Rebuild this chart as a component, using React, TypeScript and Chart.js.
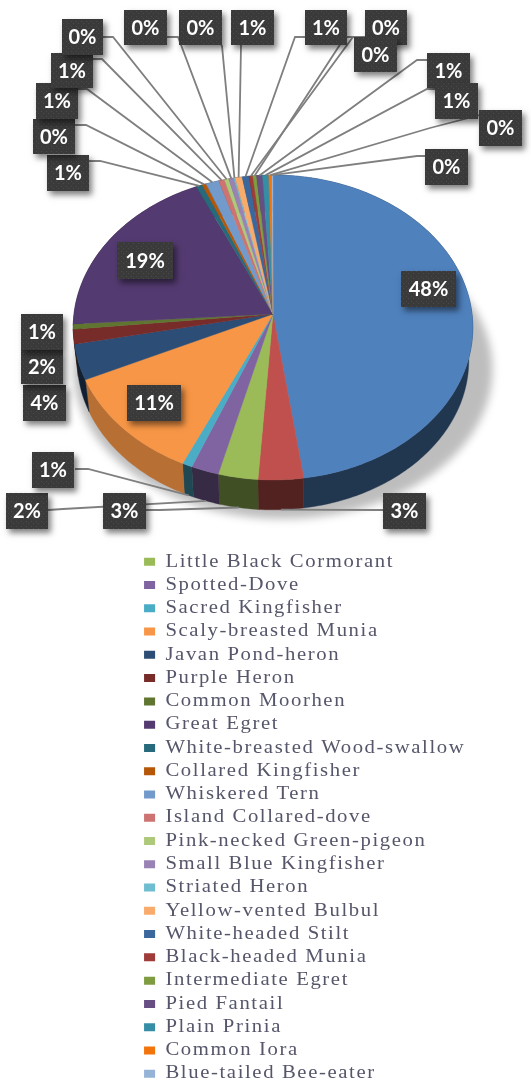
import React, { useEffect, useRef } from "react";
import { Chart, registerables, PieController, ArcElement } from "chart.js";

// Species shares in percent, clockwise from twelve o'clock.
// The two largest slices have no entry in the legend.
const speciesNames = [
  "", "",
  "Little Black Cormorant", "Spotted-Dove", "Sacred Kingfisher", "Scaly-breasted Munia",
  "Javan Pond-heron", "Purple Heron", "Common Moorhen", "Great Egret",
  "White-breasted Wood-swallow", "Collared Kingfisher", "Whiskered Tern", "Island Collared-dove",
  "Pink-necked Green-pigeon", "Small Blue Kingfisher", "Striated Heron", "Yellow-vented Bulbul",
  "White-headed Stilt", "Black-headed Munia", "Intermediate Egret", "Pied Fantail",
  "Plain Prinia", "Common Iora", "Blue-tailed Bee-eater",
];
const sharePercent = [
  47.8, 3.36, 2.95, 2.07, 0.75, 11.27, 3.75, 1.55, 0.55, 19.23,
  0.55, 0.35, 1.15, 0.52, 0.38, 0.45, 0.12, 0.62, 0.6, 0.33, 0.33, 0.52, 0.55, 0.27, 0.1,
];
const sliceColors = [
  "#4F81BD", "#C0504D", "#9BBB59", "#8064A2", "#4BACC6", "#F79646", "#2C4D75", "#772C2A",
  "#5F7530", "#533A70", "#276A7C", "#B65708", "#729ACA", "#CD7371", "#AFC97A", "#9983B5",
  "#6FBDD1", "#F9AB6B", "#3A679C", "#9F3B38", "#7F9D40", "#674F84", "#358EA6", "#F3740B", "#95B3D7",
];

// Pie geometry relative to the radius the controller computes.
const TILT = 0.76;
const PERSPECTIVE = 0.0885;
const WALL_DROP = 0.167;
const WALL_SCALE = 0.98;
const SHADE_DEFAULT = 0.42;
const SHADE_ORANGE = 0.74;
// The legend lettering is set wide, as a horizontal stretch of the serif face.
const LEGEND_STRETCH = 1.15;

type Pt = [number, number];

function rimPoint(arc: any, angle: number, lower = false): Pt {
  const t = angle + Math.PI / 2;
  const u = Math.sin(t);
  const v = -Math.cos(t);
  const w = 1 - PERSPECTIVE * v;
  const R = arc.outerRadius;
  let X = (R * u) / w;
  let Y = (R * TILT * v) / w;
  if (lower) {
    X *= WALL_SCALE;
    Y = Y * WALL_SCALE + WALL_DROP * R;
  }
  return [arc.x + X, arc.y + Y];
}

function tracePoints(ctx: CanvasRenderingContext2D, arc: any, lower: boolean, reverse: boolean) {
  const steps = Math.max(2, Math.ceil(((arc.endAngle - arc.startAngle) * 180) / Math.PI));
  for (let i = 0; i <= steps; i++) {
    const f = reverse ? 1 - i / steps : i / steps;
    const [x, y] = rimPoint(arc, arc.startAngle + (arc.endAngle - arc.startAngle) * f, lower);
    ctx.lineTo(x, y);
  }
}

function darken(hex: string, k: number) {
  const n = parseInt(hex.slice(1), 16);
  const c = (s: number) => Math.round(((n >> s) & 255) * k);
  return `rgb(${c(16)},${c(8)},${c(0)})`;
}

// Arc drawn as a perspective slice: the hub sits above the centre of the rim ellipse.
class TiltedArc extends ArcElement {
  static id = "tiltedArc";
  static defaults = { ...ArcElement.defaults };

  draw(ctx: CanvasRenderingContext2D) {
    const self = this as any;
    ctx.save();
    ctx.beginPath();
    ctx.moveTo(self.x, self.y);
    tracePoints(ctx, self, false, false);
    ctx.closePath();
    ctx.fillStyle = self.options.backgroundColor;
    ctx.strokeStyle = self.options.backgroundColor;
    ctx.lineWidth = 0.4;
    ctx.fill();
    ctx.stroke();
    ctx.restore();
  }

  drawWall(ctx: CanvasRenderingContext2D) {
    const self = this as any;
    const base = self.options.backgroundColor as string;
    const color = darken(base, base === "#F79646" ? SHADE_ORANGE : SHADE_DEFAULT);
    ctx.save();
    ctx.beginPath();
    tracePoints(ctx, self, false, false);
    tracePoints(ctx, self, true, true);
    ctx.closePath();
    ctx.fillStyle = color;
    ctx.strokeStyle = color;
    ctx.lineWidth = 0.4;
    ctx.fill();
    ctx.stroke();
    ctx.restore();
  }
}

class TiltedPieController extends PieController {
  static id = "tiltedPie";
  static defaults = { dataElementType: "tiltedArc" };

  draw() {
    const ctx = this.chart.ctx;
    const arcs = this.getMeta().data as any[];
    const cx = arcs[0].x;
    // Soft ground shadow: the path is painted off-canvas so only its blur lands on the page.
    const away = 2000;
    ctx.save();
    ctx.shadowColor = "rgba(0,0,0,0.26)";
    ctx.shadowBlur = 9;
    ctx.shadowOffsetX = away + 10;
    ctx.shadowOffsetY = 9;
    ctx.fillStyle = "#000";
    ctx.translate(cx - away, 0);
    ctx.scale(1.07, 1);
    ctx.translate(-cx, 0);
    ctx.beginPath();
    arcs.forEach((a) => tracePoints(ctx, a, true, false));
    ctx.closePath();
    ctx.fill();
    ctx.restore();
    arcs.forEach((a) => a.drawWall(ctx));
    super.draw();
  }
}

Chart.register(...registerables, TiltedArc, TiltedPieController);

// Callout placement per slice: box [x, y, w, h], leader start, leader elbow.
type Callout = { box: number[]; from?: Pt; elbow?: Pt; lower?: boolean };
const callouts: Callout[] = [
  { box: [401, 271, 55, 36] },
  { box: [383, 493, 43, 36], from: [383, 510], elbow: [378, 510], lower: true },
  { box: [103, 493, 43, 36], from: [146, 510], elbow: [160, 510], lower: true },
  { box: [6, 493, 42, 36], from: [48, 510], elbow: [63, 509], lower: true },
  { box: [32, 452, 42, 36], from: [75, 469], elbow: [88, 469], lower: true },
  { box: [127, 385, 54, 36] },
  { box: [23, 385, 43, 36] },
  { box: [21, 350, 42, 34] },
  { box: [21, 314, 42, 36] },
  { box: [117, 242, 56, 37] },
  { box: [47, 155, 42, 36], from: [89, 161], elbow: [100, 161] },
  { box: [33, 119, 42, 35], from: [75, 125], elbow: [86, 125] },
  { box: [36, 83, 42, 36], from: [78, 89], elbow: [87, 89] },
  { box: [51, 53, 42, 35], from: [93, 59], elbow: [102, 59] },
  { box: [62, 19, 41, 36], from: [103, 37], elbow: [113, 37] },
  { box: [124, 10, 43, 35], from: [167, 37], elbow: [178, 37] },
  { box: [179, 10, 43, 35], from: [221, 45], elbow: [222, 46] },
  { box: [231, 10, 43, 35], from: [241, 45], elbow: [241, 46] },
  { box: [305, 10, 42, 35], from: [305, 37], elbow: [295, 37] },
  { box: [365, 10, 42, 35], from: [365, 37], elbow: [353, 37] },
  { box: [354, 37, 43, 35], from: [354, 37], elbow: [345, 37] },
  { box: [427, 53, 43, 35], from: [427, 60], elbow: [417, 60] },
  { box: [435, 83, 43, 36], from: [435, 89], elbow: [427, 89] },
  { box: [479, 110, 43, 36], from: [480, 115], elbow: [430, 128] },
  { box: [425, 149, 43, 36], from: [425, 156], elbow: [417, 156] },
];

function dottedFill(ctx: CanvasRenderingContext2D) {
  const tile = document.createElement("canvas");
  tile.width = 5;
  tile.height = 5;
  const t = tile.getContext("2d")!;
  t.fillStyle = "#3a3a3a";
  t.fillRect(0, 0, 5, 5);
  t.fillStyle = "#4a4a4a";
  t.fillRect(1, 1, 1, 1);
  t.fillRect(3, 3, 1, 1);
  return ctx.createPattern(tile, "repeat")!;
}

const calloutPlugin = {
  id: "callouts",
  afterDatasetsDraw(chart: any) {
    const { ctx } = chart;
    const arcs = chart.getDatasetMeta(0).data as any[];
    const values = chart.data.datasets[0].data as number[];
    const total = values.reduce((a, b) => a + b, 0);
    ctx.save();
    ctx.strokeStyle = "#7f7f7f";
    ctx.lineWidth = 1.8;
    arcs.forEach((arc, i) => {
      const c = callouts[i];
      if (!c.from || !c.elbow) return;
      const [ex, ey] = rimPoint(arc, (arc.startAngle + arc.endAngle) / 2, !!c.lower);
      ctx.beginPath();
      ctx.moveTo(c.from[0], c.from[1]);
      ctx.lineTo(c.elbow[0], c.elbow[1]);
      ctx.lineTo(ex, ey);
      ctx.stroke();
    });
    const pattern = dottedFill(ctx);
    arcs.forEach((_, i) => {
      const [x, y, w, h] = callouts[i].box;
      ctx.save();
      ctx.shadowColor = "rgba(0,0,0,0.5)";
      ctx.shadowBlur = 6;
      ctx.shadowOffsetX = 3;
      ctx.shadowOffsetY = 4;
      ctx.fillStyle = "#3a3a3a";
      ctx.fillRect(x, y, w, h);
      ctx.restore();
      ctx.fillStyle = pattern;
      ctx.fillRect(x, y, w, h);
      ctx.fillStyle = "#ffffff";
      ctx.font = 'bold 20px Lato, "Open Sans", sans-serif';
      ctx.textAlign = "center";
      ctx.textBaseline = "middle";
      ctx.fillText(`${Math.round((values[i] / total) * 100)}%`, x + w / 2, y + h / 2 + 1);
    });
    ctx.restore();
  },
};

// Places the legend column under the pie and stretches its lettering.
const legendPlacement = {
  id: "legendPlacement",
  afterLayout(chart: any) {
    const legend = chart.legend;
    legend.left = 120;
    legend.right = 460;
    legend.top = 547.5;
    legend.bottom = 1110;
    legend.width = 340;
    legend.height = 562.5;
  },
  beforeDraw(chart: any) {
    const { ctx } = chart;
    ctx.save();
    ctx.scale(LEGEND_STRETCH, 1);
    ctx.letterSpacing = "1.4px";
  },
  beforeDatasetsDraw(chart: any) {
    chart.ctx.restore();
  },
};

export default function App() {
  const ref = useRef<HTMLCanvasElement>(null);
  useEffect(() => {
    const chart = new Chart(ref.current!, {
      type: "tiltedPie" as any,
      data: {
        labels: speciesNames,
        datasets: [{ data: sharePercent, backgroundColor: sliceColors, borderWidth: 0 }],
      },
      options: {
        responsive: false,
        animation: false,
        layout: { padding: { left: 74, right: 59, top: 115, bottom: 570 } },
        plugins: {
          tooltip: { enabled: false },
          legend: {
            position: "chartArea" as any,
            align: "start",
            labels: {
              boxWidth: 9.6,
              boxHeight: 8,
              padding: 5.27,
              color: "#55566a",
              font: { family: '"Liberation Serif", serif', size: 18 },
              filter: (item: any) => item.text !== "",
            },
          },
        },
      } as any,
      plugins: [calloutPlugin, legendPlacement],
    });
    return () => chart.destroy();
  }, []);
  return (
    <div style={{ position: "absolute", left: 0, top: 0, width: 531, height: 1083 }}>
      <canvas ref={ref} width={531} height={1083} style={{ display: "block" }} />
    </div>
  );
}
